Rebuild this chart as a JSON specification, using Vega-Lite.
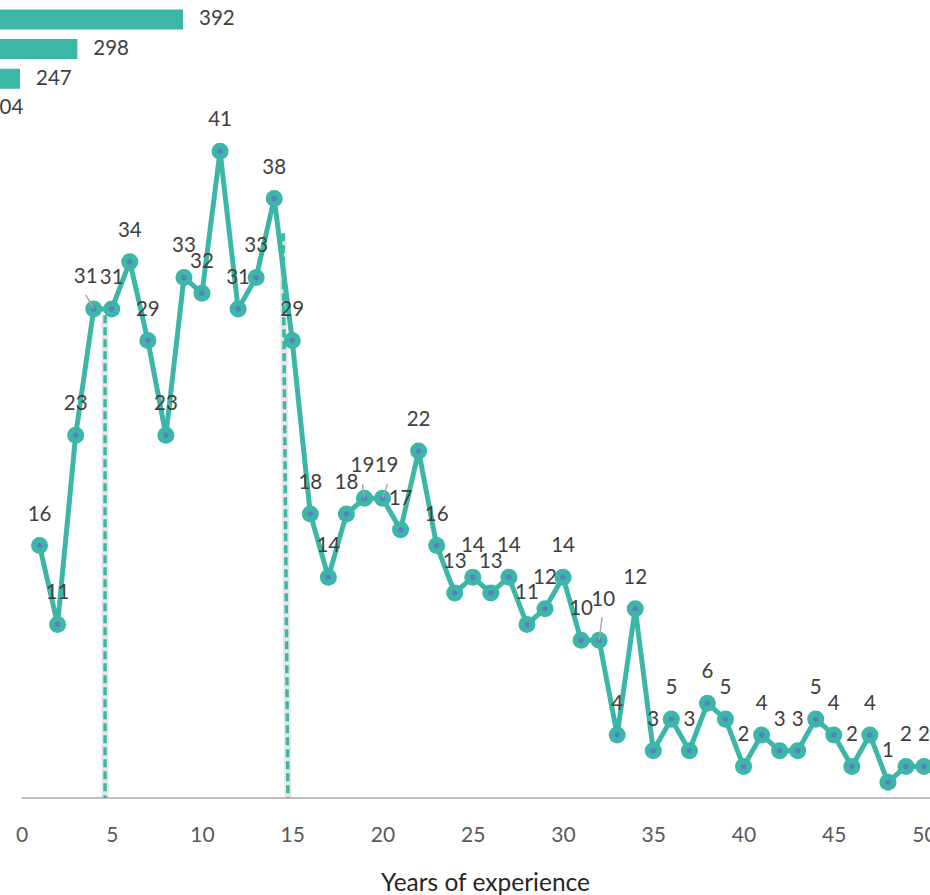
{
  "$schema": "https://vega.github.io/schema/vega-lite/v6.json",
  "width": 930,
  "height": 798,
  "autosize": {"type": "none"},
  "padding": {"left": 0, "top": 0, "right": 0, "bottom": 97},
  "background": "white",
  "config": {"view": {"stroke": null}, "font": "Lato"},
  "datasets": {
    "experience": [
      {"year": 1, "count": 16}, {"year": 2, "count": 11}, {"year": 3, "count": 23}, {"year": 4, "count": 31}, {"year": 5, "count": 31},
      {"year": 6, "count": 34}, {"year": 7, "count": 29}, {"year": 8, "count": 23}, {"year": 9, "count": 33}, {"year": 10, "count": 32},
      {"year": 11, "count": 41}, {"year": 12, "count": 31}, {"year": 13, "count": 33}, {"year": 14, "count": 38}, {"year": 15, "count": 29},
      {"year": 16, "count": 18}, {"year": 17, "count": 14}, {"year": 18, "count": 18}, {"year": 19, "count": 19}, {"year": 20, "count": 19},
      {"year": 21, "count": 17}, {"year": 22, "count": 22}, {"year": 23, "count": 16}, {"year": 24, "count": 13}, {"year": 25, "count": 14},
      {"year": 26, "count": 13}, {"year": 27, "count": 14}, {"year": 28, "count": 11}, {"year": 29, "count": 12}, {"year": 30, "count": 14},
      {"year": 31, "count": 10}, {"year": 32, "count": 10}, {"year": 33, "count": 4}, {"year": 34, "count": 12}, {"year": 35, "count": 3},
      {"year": 36, "count": 5}, {"year": 37, "count": 3}, {"year": 38, "count": 6}, {"year": 39, "count": 5}, {"year": 40, "count": 2},
      {"year": 41, "count": 4}, {"year": 42, "count": 3}, {"year": 43, "count": 3}, {"year": 44, "count": 5}, {"year": 45, "count": 4},
      {"year": 46, "count": 2}, {"year": 47, "count": 4}, {"year": 48, "count": 1}, {"year": 49, "count": 2}, {"year": 50, "count": 2}
    ],
    "refs": [
      {"year": 4.63, "count": 30.6, "year_end": 4.63, "count_end": 0},
      {"year": 14.49, "count": 35.8, "year_end": 14.76, "count_end": 0}
    ],
    "baseline": [
      {"year": 0, "count": 0, "year_end": 60}
    ],
    "groups": [
      {"group": "Group 1", "n": 392},
      {"group": "Group 2", "n": 298},
      {"group": "Group 3", "n": 247},
      {"group": "Group 4", "n": 204}
    ]
  },
  "resolve": {"scale": {"x": "independent", "y": "independent"}},
  "layer": [
    {
      "data": {"name": "experience"},
      "encoding": {
        "x": {
          "field": "year",
          "type": "quantitative",
          "title": "Years of experience",
          "scale": {"domain": [-1.191, 50.33], "nice": false, "zero": false},
          "axis": {
            "orient": "bottom",
            "values": [0, 5, 10, 15, 20, 25, 30, 35, 40, 45, 50],
            "domain": false,
            "ticks": false,
            "grid": false,
            "labelFlush": false,
            "labelOverlap": false,
            "labelBound": false,
            "labelFont": "Lato",
            "labelFontSize": 21,
            "labelColor": "#595959",
            "labelPadding": 26,
            "titleFont": "Lato",
            "titleFontSize": 24.5,
            "titleFontWeight": "normal",
            "titleColor": "#262626",
            "titlePadding": 26,
            "titleX": 485
          }
        },
        "y": {
          "field": "count",
          "type": "quantitative",
          "scale": {"domain": [0, 50.587], "nice": false, "zero": false},
          "axis": null
        }
      },
      "layer": [
        {
          "data": {"name": "baseline"},
          "mark": {"type": "rule", "color": "#bfbfbf", "strokeWidth": 2},
          "encoding": {"x2": {"field": "year_end"}}
        },
        {
          "data": {"name": "refs"},
          "mark": {"type": "rule", "color": "#9a9a9a", "strokeWidth": 7, "opacity": 0.25},
          "encoding": {"x2": {"field": "year_end"}, "y2": {"field": "count_end"}}
        },
        {
          "data": {"name": "refs"},
          "mark": {"type": "rule", "color": "#3cb6a7", "strokeWidth": 3.5, "strokeDash": [8, 4]},
          "encoding": {"x2": {"field": "year_end"}, "y2": {"field": "count_end"}}
        },
        {
          "mark": {"type": "line", "color": "#3cb6a7", "strokeWidth": 5}
        },
        {
          "mark": {"type": "circle", "size": 290, "color": "#3cb6a7", "opacity": 1}
        },
        {
          "mark": {"type": "circle", "size": 30, "color": "#5a80c4", "opacity": 1}
        },
        {
          "transform": [{"filter": "datum.year == 4"}],
          "mark": {"type": "rule", "color": "#a6a6a6", "strokeWidth": 1.5, "xOffset": -8, "yOffset": -14},
          "encoding": {"x2": {"field": "year"}, "y2": {"field": "count"}}
        },
        {
          "transform": [{"filter": "datum.year == 19"}],
          "mark": {"type": "rule", "color": "#a6a6a6", "strokeWidth": 1.5, "xOffset": -2, "yOffset": -14},
          "encoding": {"x2": {"field": "year"}, "y2": {"field": "count"}}
        },
        {
          "transform": [{"filter": "datum.year == 20"}],
          "mark": {"type": "rule", "color": "#a6a6a6", "strokeWidth": 1.5, "xOffset": 5, "yOffset": -14},
          "encoding": {"x2": {"field": "year"}, "y2": {"field": "count"}}
        },
        {
          "transform": [{"filter": "datum.year == 32"}],
          "mark": {"type": "rule", "color": "#a6a6a6", "strokeWidth": 1.5, "xOffset": 3, "yOffset": -23},
          "encoding": {"x2": {"field": "year"}, "y2": {"field": "count"}}
        },
        {
          "transform": [{"filter": "datum.year != 4 && datum.year != 19 && datum.year != 20 && datum.year != 32"}],
          "mark": {"type": "text", "dy": -31, "fontSize": 20.5, "color": "#404040", "baseline": "middle", "font": "Lato"},
          "encoding": {"text": {"field": "count"}}
        },
        {
          "transform": [{"filter": "datum.year == 4"}],
          "mark": {"type": "text", "dx": -8, "dy": -32, "fontSize": 20.5, "color": "#404040", "baseline": "middle", "font": "Lato"},
          "encoding": {"text": {"field": "count"}}
        },
        {
          "transform": [{"filter": "datum.year == 19"}],
          "mark": {"type": "text", "dx": -2, "dy": -32, "fontSize": 20.5, "color": "#404040", "baseline": "middle", "font": "Lato"},
          "encoding": {"text": {"field": "count"}}
        },
        {
          "transform": [{"filter": "datum.year == 20"}],
          "mark": {"type": "text", "dx": 4, "dy": -32, "fontSize": 20.5, "color": "#404040", "baseline": "middle", "font": "Lato"},
          "encoding": {"text": {"field": "count"}}
        },
        {
          "transform": [{"filter": "datum.year == 32"}],
          "mark": {"type": "text", "dx": 4, "dy": -40, "fontSize": 20.5, "color": "#404040", "baseline": "middle", "font": "Lato"},
          "encoding": {"text": {"field": "count"}}
        }
      ]
    },
    {
      "data": {"name": "groups"},
      "encoding": {
        "y": {
          "field": "group",
          "type": "nominal",
          "sort": "-x",
          "axis": null,
          "scale": {"range": [9.5, 118.3], "paddingInner": 0.325, "paddingOuter": 0, "round": false}
        },
        "x": {
          "field": "n",
          "type": "quantitative",
          "axis": null,
          "scale": {"domain": [229.2, 1056.6], "nice": false, "zero": false}
        }
      },
      "layer": [
        {
          "mark": {"type": "bar", "color": "#3cb6a7"},
          "encoding": {"x2": {"datum": 0}}
        },
        {
          "mark": {"type": "text", "align": "left", "baseline": "middle", "dx": 16, "fontSize": 20.5, "color": "#404040", "font": "Lato"},
          "encoding": {"text": {"field": "n"}}
        }
      ]
    }
  ]
}
